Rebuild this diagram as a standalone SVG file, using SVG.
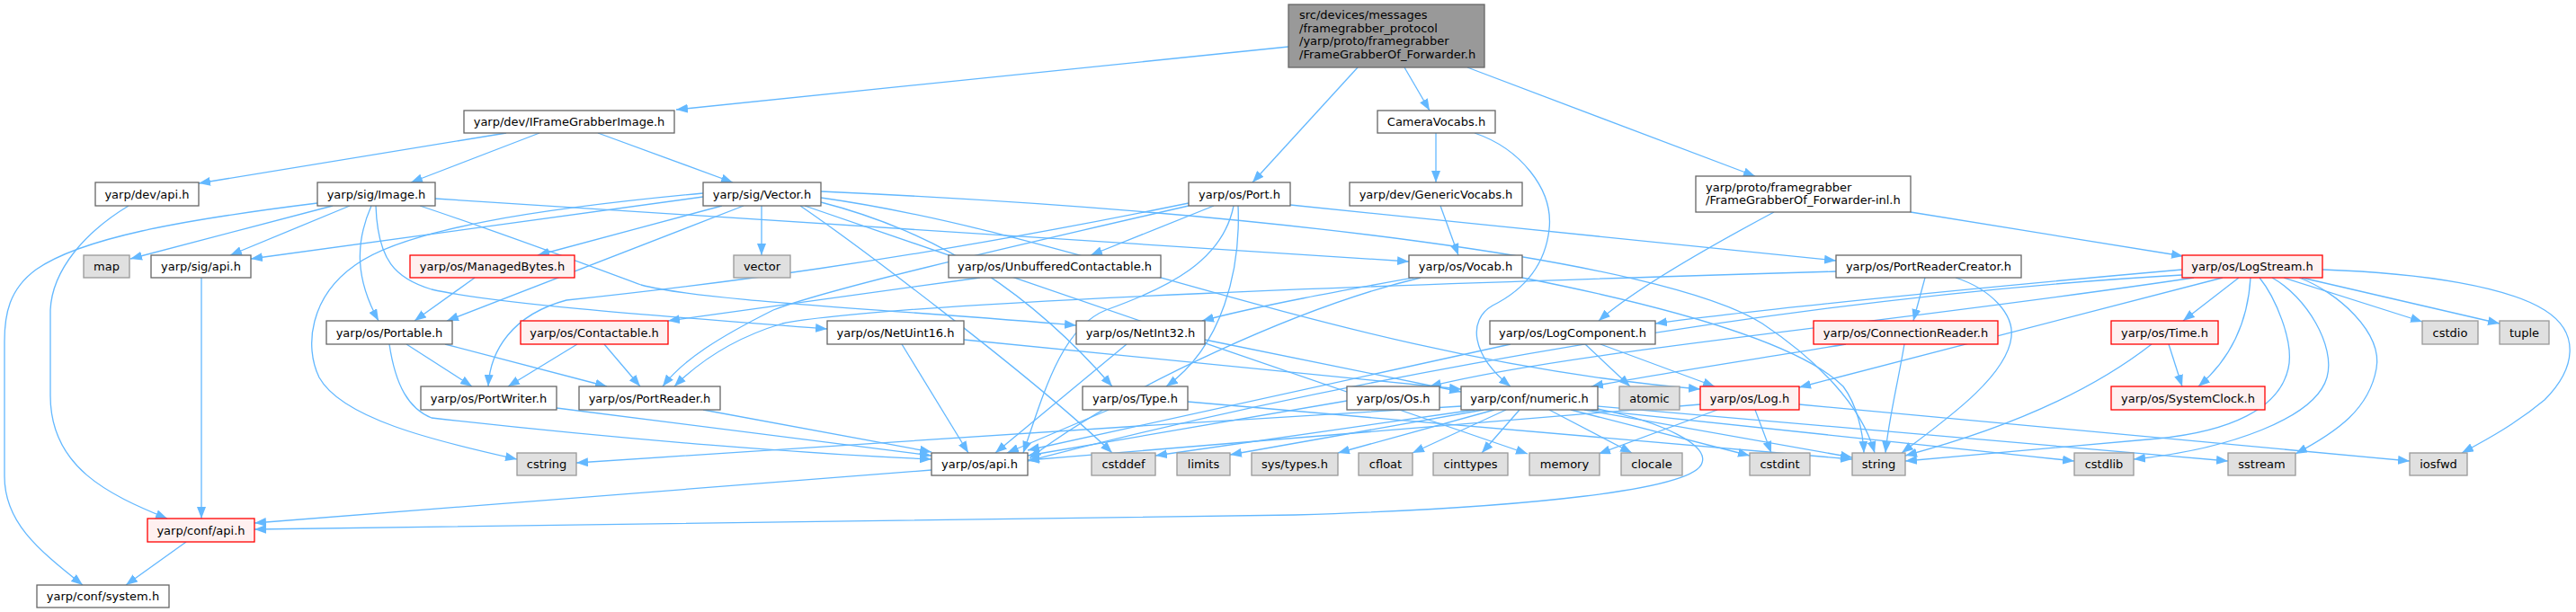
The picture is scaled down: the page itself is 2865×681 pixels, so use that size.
<svg xmlns="http://www.w3.org/2000/svg" width="2865" height="681" viewBox="0 0 2865 681">
<style>
text{font-family:"DejaVu Sans","Liberation Sans",sans-serif;font-size:13px;fill:#000;text-anchor:middle}
.l text{text-anchor:start}
.n rect{fill:#fff;stroke:#666;stroke-width:1.3}
.r rect{fill:#FFF0F0;stroke:#f00;stroke-width:1.3}
.s rect{fill:#E0E0E0;stroke:#999;stroke-width:1.3}
.root rect{fill:#999;stroke:#666;stroke-width:1.3}
#edges path{fill:none;stroke:#63B8FF;stroke-width:1.3;marker-end:url(#a)}
</style>
<defs>
<marker id="a" markerUnits="userSpaceOnUse" viewBox="0 0 13 10" markerWidth="13" markerHeight="10" refX="13" refY="5" orient="auto">
<path d="M0,0L13,5L0,10z" fill="#63B8FF"/>
</marker>
</defs>
<rect width="2865" height="681" fill="#fff"/>
<g id="edges">
<path d="M1433,52 L752,122"/>
<path d="M1510,75 L1393,203"/>
<path d="M1562,75 L1590,123"/>
<path d="M1632,75 L1952,196"/>
<path d="M563,148 L221,204"/>
<path d="M600,148 L457,203"/>
<path d="M665,148 L815,203"/>
<path d="M1597,148 L1597,203"/>
<path d="M1640,148 C1690,165 1728,210 1723,255 C1718,300 1690,325 1660,340 C1632,356 1636,395 1680,430"/>
<path d="M1602,229 L1622,284"/>
<path d="M2125,236 L2428,285"/>
<path d="M1973,236 C1900,275 1820,320 1778,357"/>
<path d="M143,229 C95,258 58,300 56,345 L56,440 C56,520 120,550 186,577"/>
<path d="M353,226 C200,245 90,265 40,300 C10,322 5,350 5,380 L5,530 C5,580 40,610 92,651"/>
<path d="M370,229 L145,288"/>
<path d="M389,229 L256,284"/>
<path d="M413,229 C395,270 395,310 421,357"/>
<path d="M418,229 C420,290 440,310 480,322 C560,340 780,355 920,366"/>
<path d="M467,229 C560,260 640,290 713,317 C780,335 1000,345 1197,362"/>
<path d="M484,221 L1567,291"/>
<path d="M803,229 L598,284"/>
<path d="M847,229 L847,284"/>
<path d="M827,229 L497,357"/>
<path d="M782,219 L279,288"/>
<path d="M782,215 C600,232 450,255 395,295 C345,330 338,385 355,420 C380,465 480,490 575,511"/>
<path d="M913,225 C1050,260 1150,330 1237,430"/>
<path d="M890,229 C950,270 1150,420 1237,504"/>
<path d="M895,229 L1699,505"/>
<path d="M913,213 C1400,235 1850,290 1960,360 C2020,400 2070,450 2085,504"/>
<path d="M913,220 C1200,260 1500,400 1891,433"/>
<path d="M1350,229 L1213,284"/>
<path d="M1435,228 L2042,290"/>
<path d="M1322,226 C1000,292 780,318 630,334 C570,350 545,390 543,430"/>
<path d="M1322,229 C1100,280 920,322 860,345 C800,375 760,400 737,430"/>
<path d="M1377,229 C1380,300 1360,385 1297,430"/>
<path d="M1372,229 C1360,290 1300,320 1230,345 C1180,365 1160,440 1138,504"/>
<path d="M528,309 L461,357"/>
<path d="M1090,309 C950,328 850,342 743,357"/>
<path d="M1572,309 C1500,322 1400,340 1337,357"/>
<path d="M1693,309 C1850,340 2000,380 2050,430 C2065,450 2072,480 2073,504"/>
<path d="M1580,309 C1450,340 1250,430 1145,510"/>
<path d="M2042,302 C1600,315 1000,335 870,360 C820,375 780,400 750,430"/>
<path d="M2141,309 L2128,357"/>
<path d="M2175,309 C2215,322 2240,350 2237,375 C2232,420 2160,470 2115,504"/>
<path d="M2427,300 C2200,320 1950,345 1841,360"/>
<path d="M2472,309 L2001,431"/>
<path d="M2490,309 L2428,357"/>
<path d="M2503,309 C2500,360 2480,400 2445,430"/>
<path d="M2540,309 L2694,358"/>
<path d="M2560,309 L2780,360"/>
<path d="M2583,300 C2700,304 2790,320 2830,345 C2870,370 2865,410 2830,445 C2800,470 2770,487 2738,504"/>
<path d="M2557,309 C2600,325 2650,370 2643,410 C2635,455 2600,480 2553,505"/>
<path d="M2513,309 C2530,330 2552,380 2545,410 C2535,455 2480,480 2400,488 L2119,513"/>
<path d="M2527,309 C2565,330 2598,385 2588,420 C2575,465 2480,500 2373,511"/>
<path d="M2427,306 C2000,330 1500,420 1143,513"/>
<path d="M2440,309 C2100,360 1750,390 1590,430"/>
<path d="M1763,383 L1813,430"/>
<path d="M1780,383 L1907,430"/>
<path d="M1680,383 L1143,501"/>
<path d="M1952,456 L1970,504"/>
<path d="M1910,456 L1778,505"/>
<path d="M2001,450 L2680,513"/>
<path d="M1891,450 L1143,512"/>
<path d="M2118,383 C2110,430 2100,470 2097,504"/>
<path d="M2053,383 C1950,400 1850,415 1770,430"/>
<path d="M2412,383 L2427,430"/>
<path d="M2393,383 C2320,440 2220,480 2119,507"/>
<path d="M642,383 L565,430"/>
<path d="M672,383 L712,430"/>
<path d="M452,383 L525,430"/>
<path d="M495,383 L675,430"/>
<path d="M433,383 C440,430 455,455 480,465 C700,490 900,505 1036,511"/>
<path d="M619,454 L1036,507"/>
<path d="M782,456 L1036,503"/>
<path d="M1003,383 L1077,504"/>
<path d="M1072,378 L1625,433"/>
<path d="M1253,383 L1107,504"/>
<path d="M1340,378 L1625,436"/>
<path d="M1233,456 L1120,504"/>
<path d="M1321,447 L2060,511"/>
<path d="M1498,446 L1143,507"/>
<path d="M1625,452 C1300,470 900,500 641,515"/>
<path d="M1640,456 L1285,507"/>
<path d="M1650,456 L1368,506"/>
<path d="M1662,456 L1488,504"/>
<path d="M1675,456 L1571,504"/>
<path d="M1690,456 L1648,504"/>
<path d="M1723,456 L1815,504"/>
<path d="M1747,456 L1946,507"/>
<path d="M1762,456 L2060,509"/>
<path d="M1770,456 L2307,513"/>
<path d="M1777,452 L2478,513"/>
<path d="M1777,455 C1850,470 1900,495 1893,515 C1885,545 1700,565 1440,573 L283,589"/>
<path d="M1036,523 L283,582"/>
<path d="M224,309 L224,577"/>
<path d="M207,603 L140,651"/>
</g>
<g id="root" class="root l"><rect x="1433" y="5" width="218" height="70"/><text x="1445" y="21">src/devices/messages</text><text x="1445" y="35.5">/framegrabber_protocol</text><text x="1445" y="50">/yarp/proto/framegrabber</text><text x="1445" y="64.5">/FrameGrabberOf_Forwarder.h</text></g>
<g id="ifg" class="n"><rect x="516" y="123" width="234" height="25"/><text x="633" y="140">yarp/dev/IFrameGrabberImage.h</text></g>
<g id="cameravocabs" class="n"><rect x="1532" y="123" width="131" height="25"/><text x="1597.5" y="140">CameraVocabs.h</text></g>
<g id="devapi" class="n"><rect x="106" y="203" width="115" height="26"/><text x="163.5" y="220.5">yarp/dev/api.h</text></g>
<g id="image" class="n"><rect x="353" y="203" width="131" height="26"/><text x="418.5" y="220.5">yarp/sig/Image.h</text></g>
<g id="vector" class="n"><rect x="782" y="203" width="131" height="26"/><text x="847.5" y="220.5">yarp/sig/Vector.h</text></g>
<g id="port" class="n"><rect x="1322" y="203" width="113" height="26"/><text x="1378.5" y="220.5">yarp/os/Port.h</text></g>
<g id="genericvocabs" class="n"><rect x="1501" y="203" width="192" height="26"/><text x="1597" y="220.5">yarp/dev/GenericVocabs.h</text></g>
<g id="fgfinl" class="n l"><rect x="1886" y="196" width="239" height="40"/><text x="1897" y="212.5">yarp/proto/framegrabber</text><text x="1897" y="227">/FrameGrabberOf_Forwarder-inl.h</text></g>
<g id="map" class="s"><rect x="93" y="284" width="51" height="25"/><text x="118.5" y="301">map</text></g>
<g id="sigapi" class="n"><rect x="168" y="284" width="111" height="25"/><text x="223.5" y="301">yarp/sig/api.h</text></g>
<g id="managedbytes" class="r"><rect x="456" y="284" width="183" height="25"/><text x="547.5" y="301">yarp/os/ManagedBytes.h</text></g>
<g id="vectorstd" class="s"><rect x="816" y="284" width="63" height="25"/><text x="847.5" y="301">vector</text></g>
<g id="unbuffered" class="n"><rect x="1055" y="284" width="236" height="25"/><text x="1173" y="301">yarp/os/UnbufferedContactable.h</text></g>
<g id="vocab" class="n"><rect x="1567" y="284" width="126" height="25"/><text x="1630" y="301">yarp/os/Vocab.h</text></g>
<g id="portreadercreator" class="n"><rect x="2042" y="284" width="206" height="25"/><text x="2145" y="301">yarp/os/PortReaderCreator.h</text></g>
<g id="logstream" class="r"><rect x="2427" y="284" width="156" height="25"/><text x="2505" y="301">yarp/os/LogStream.h</text></g>
<g id="portable" class="n"><rect x="363" y="357" width="140" height="26"/><text x="433" y="374.5">yarp/os/Portable.h</text></g>
<g id="contactable" class="r"><rect x="579" y="357" width="164" height="26"/><text x="661" y="374.5">yarp/os/Contactable.h</text></g>
<g id="netuint16" class="n"><rect x="920" y="357" width="152" height="26"/><text x="996" y="374.5">yarp/os/NetUint16.h</text></g>
<g id="netint32" class="n"><rect x="1197" y="357" width="143" height="26"/><text x="1268.5" y="374.5">yarp/os/NetInt32.h</text></g>
<g id="logcomponent" class="n"><rect x="1657" y="357" width="184" height="26"/><text x="1749" y="374.5">yarp/os/LogComponent.h</text></g>
<g id="connectionreader" class="r"><rect x="2017" y="357" width="205" height="26"/><text x="2119.5" y="374.5">yarp/os/ConnectionReader.h</text></g>
<g id="time" class="r"><rect x="2348" y="357" width="119" height="26"/><text x="2407.5" y="374.5">yarp/os/Time.h</text></g>
<g id="cstdio" class="s"><rect x="2694" y="357" width="62" height="26"/><text x="2725" y="374.5">cstdio</text></g>
<g id="tuple" class="s"><rect x="2780" y="357" width="55" height="26"/><text x="2807.5" y="374.5">tuple</text></g>
<g id="portwriter" class="n"><rect x="468" y="430" width="151" height="26"/><text x="543.5" y="447.5">yarp/os/PortWriter.h</text></g>
<g id="portreader" class="n"><rect x="644" y="430" width="157" height="26"/><text x="722.5" y="447.5">yarp/os/PortReader.h</text></g>
<g id="type" class="n"><rect x="1204" y="430" width="117" height="26"/><text x="1262.5" y="447.5">yarp/os/Type.h</text></g>
<g id="os" class="n"><rect x="1498" y="430" width="103" height="26"/><text x="1549.5" y="447.5">yarp/os/Os.h</text></g>
<g id="numeric" class="n"><rect x="1625" y="430" width="152" height="26"/><text x="1701" y="447.5">yarp/conf/numeric.h</text></g>
<g id="atomic" class="s"><rect x="1801" y="430" width="67" height="26"/><text x="1834.5" y="447.5">atomic</text></g>
<g id="log" class="r"><rect x="1891" y="430" width="110" height="26"/><text x="1946" y="447.5">yarp/os/Log.h</text></g>
<g id="systemclock" class="r"><rect x="2348" y="430" width="171" height="26"/><text x="2433.5" y="447.5">yarp/os/SystemClock.h</text></g>
<g id="cstring" class="s"><rect x="575" y="504" width="66" height="25"/><text x="608" y="521">cstring</text></g>
<g id="osapi" class="n"><rect x="1036" y="504" width="107" height="25"/><text x="1089.5" y="521">yarp/os/api.h</text></g>
<g id="cstddef" class="s"><rect x="1214" y="504" width="71" height="25"/><text x="1249.5" y="521">cstddef</text></g>
<g id="limits" class="s"><rect x="1309" y="504" width="59" height="25"/><text x="1338.5" y="521">limits</text></g>
<g id="systypes" class="s"><rect x="1392" y="504" width="96" height="25"/><text x="1440" y="521">sys/types.h</text></g>
<g id="cfloat" class="s"><rect x="1511" y="504" width="60" height="25"/><text x="1541" y="521">cfloat</text></g>
<g id="cinttypes" class="s"><rect x="1594" y="504" width="83" height="25"/><text x="1635.5" y="521">cinttypes</text></g>
<g id="memory" class="s"><rect x="1701" y="504" width="78" height="25"/><text x="1740" y="521">memory</text></g>
<g id="clocale" class="s"><rect x="1803" y="504" width="68" height="25"/><text x="1837" y="521">clocale</text></g>
<g id="cstdint" class="s"><rect x="1946" y="504" width="67" height="25"/><text x="1979.5" y="521">cstdint</text></g>
<g id="string" class="s"><rect x="2060" y="504" width="59" height="25"/><text x="2089.5" y="521">string</text></g>
<g id="cstdlib" class="s"><rect x="2307" y="504" width="66" height="25"/><text x="2340" y="521">cstdlib</text></g>
<g id="sstream" class="s"><rect x="2478" y="504" width="75" height="25"/><text x="2515.5" y="521">sstream</text></g>
<g id="iosfwd" class="s"><rect x="2680" y="504" width="64" height="25"/><text x="2712" y="521">iosfwd</text></g>
<g id="confapi" class="r"><rect x="164" y="577" width="119" height="26"/><text x="223.5" y="594.5">yarp/conf/api.h</text></g>
<g id="confsystem" class="n"><rect x="41" y="651" width="147" height="25"/><text x="114.5" y="668">yarp/conf/system.h</text></g>
</svg>
